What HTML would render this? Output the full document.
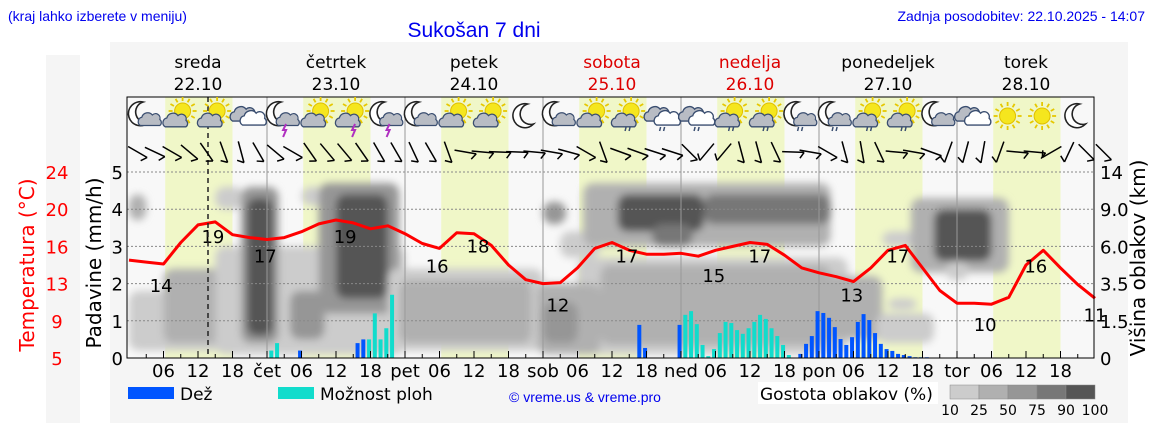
<!DOCTYPE html>
<html><head><meta charset="utf-8">
<style>
html,body{margin:0;padding:0;background:#fff;}
body{width:1152px;height:443px;overflow:hidden;font-family:"Liberation Sans",sans-serif;}
svg text{font-family:"DejaVu Sans","Liberation Sans",sans-serif;}
</style></head>
<body>
<svg id="chart" width="1152" height="443" xmlns="http://www.w3.org/2000/svg">
<defs>
<filter id="blur" x="-20%" y="-20%" width="140%" height="140%"><feGaussianBlur stdDeviation="4"/></filter>
<clipPath id="plotclip"><rect x="127" y="172" width="967" height="186"/></clipPath>
</defs>
<rect x="46" y="55" width="34" height="368" fill="#f5f5f5"/>
<rect x="110" y="42" width="1018" height="381" fill="#f5f5f5"/>
<text x="8" y="21" font-size="14" fill="#0000ee" style="font-family:'Liberation Sans',sans-serif">(kraj lahko izberete v meniju)</text>
<text x="474" y="37" font-size="21" fill="#0000ee" text-anchor="middle" style="font-family:'Liberation Sans',sans-serif">Sukošan 7 dni</text>
<text x="1145" y="21" font-size="14" fill="#0000ee" text-anchor="end" style="font-family:'Liberation Sans',sans-serif">Zadnja posodobitev: 22.10.2025 - 14:07</text>
<g id="g"></g>
</svg>
<script>
// ---- data ----
const dayNames = ['sreda','četrtek','petek','sobota','nedelja','ponedeljek','torek'];
const dayDates = ['22.10','23.10','24.10','25.10','26.10','27.10','28.10'];
const dayWeekend = [false,false,false,true,true,false,false];
const dayAbbr = ['','čet','pet','sob','ned','pon','tor'];
const tempTickLabels = ['5','9','13','16','20','24'];
const precipTickLabels = ['0','1','2','3','4','5'];
const cloudTickLabels = ['0','1.5','3.5','6.0','9.0','14'];
// temperature every 3 hours from Wed 00:00
const temps = [15.0,14.8,14.6,16.8,18.6,18.9,17.6,17.3,17.1,17.3,17.9,18.7,19.1,18.8,18.2,18.5,17.7,16.7,16.2,17.8,17.7,16.5,14.5,13.0,12.6,12.7,14.2,16.2,16.8,16.0,15.6,15.6,15.7,15.4,16.0,16.4,16.8,16.6,15.5,14.2,13.7,13.3,12.8,14.2,16.0,16.5,14.2,11.9,10.6,10.6,10.5,11.2,14.5,16.0,14.2,12.5,11.1];
const tempLabelHours = [5.6,14.6,23.7,37.6,53.6,60.7,74.6,86.6,101.7,109.7,125.7,133.7,148.9,157.7,168];
const tempLabelValues = [14,19,17,19,16,18,12,17,15,17,13,17,10,16,11];
const rainHours = [29,39,40,88,89,95,116,117,118,119,120,121,122,123,124,125,126,127,128,129,130,131,132,133,134,135,136,137,138];
const rainValues = [0.2,0.4,0.5,0.89,0.27,0.89,0.11,0.38,0.59,1.26,1.21,1.08,0.83,0.51,0.35,0.56,0.97,1.18,1.02,0.67,0.38,0.24,0.19,0.11,0.08,0.05,0.02,0.02,0.02];
const showerHours = [24,25,41,42,43,44,45,96,97,98,99,100,101,102,103,104,105,106,107,108,109,110,111,112,113,114];
const showerValues = [0.2,0.4,0.5,1.2,0.5,0.8,1.7,1.16,1.26,0.91,0.35,0.05,0.24,0.67,0.97,0.94,0.75,0.65,0.8,0.97,1.16,1.05,0.8,0.59,0.35,0.08];
// cloud density cells: hourStart, hourEnd, low, high (precip-axis units), density class 1..5
const cloudStart = [0,0,6,15,17,15,30,19.5,20.5,33,36,28,45,47,72,75,78,71,82,72,79,85,100,91,117,120,130,131,132,136,140,142];
const cloudEnd   = [21,3,18,20,46,48,34,26,25,47,45,34,72,70,76,82,125,82,122,78,122,100,122,98,121,131,140,138,137,153,150,146];
const cloudLow   = [0.2,3.7,0.4,4.0,0.3,0.1,4.1,0.4,0.6,1.2,1.6,0.5,0.2,0.4,3.6,2.7,0.1,0.1,0.35,0.4,3.0,3.4,3.6,3.0,3.8,0.5,0.4,3.0,1.3,2.3,2.6,2.1];
const cloudHigh  = [1.8,4.4,2.4,4.6,2.7,3.0,4.6,4.6,4.3,4.7,4.4,1.8,2.4,2.1,4.2,3.4,2.7,2.0,2.5,1.5,4.7,4.4,4.4,3.6,4.4,2.2,1.2,3.4,1.6,4.3,4.0,2.6];
const cloudDens  = [1,2,2,1,2,1,1,3,5,3,5,3,1,2,3,1,1,2,2,3,2,5,4,4,4,2,1,1,1,2,5,1];
const iconTypes = ['mc','sc','sc','c','mcs','sc','scs','mcs','mc','sc','sc','m','mc','sc','scr','cr','cr','scr','scr','mcr','mcr','scr','scr','mc','c','s','s','m'];
// wind shaft orientation (deg from vertical, clockwise), every 3 h from 01:30
const windDirs = [-60,-65,-60,-50,-35,-20,-15,-30,-50,-60,-35,-40,-40,-35,-30,-30,-25,-30,-20,-80,-85,-88,-88,-85,-80,-75,-60,-20,-70,-70,-72,-72,-45,40,40,-15,-15,-25,-88,-80,-60,-15,-10,-25,-85,-80,-70,20,15,10,20,-85,-85,60,25,-45,-45];
const densColors = ['#ffffff','#cccccc','#b0b0b0','#969696','#777777','#555555'];

// ---- axes ----
const X0=129, PX_H=5.75, YB=358, PX_P=37.2;
const X = h => X0 + h*PX_H;
const Yp = p => YB - p*PX_P;
const Yt = t => YB - (t-5)*(186/19);
const NS='http://www.w3.org/2000/svg';
const g=document.getElementById('g');
function el(tag, attrs, parent){const e=document.createElementNS(NS,tag);for(const k in attrs)e.setAttribute(k,attrs[k]);(parent||g).appendChild(e);return e;}
function txt(s, attrs, parent){const e=el('text',attrs,parent);e.textContent=s;return e;}

const bg=el('rect',{x:127,y:97,width:967,height:261,fill:'#f8f8f8'});


for(let d=0;d<7;d++){
  const r=el('rect',{x:X(d*24+6.3),y:97,width:X(18)-X(6.3),height:261,fill:'#f0f7c8'});
  
  
}
const cg=el('g',{filter:'url(#blur)','clip-path':'url(#plotclip)'});


for(let i=0;i<cloudStart.length;i++){
  const r=el('rect',{x:X(cloudStart[i]),y:Yp(cloudHigh[i]),width:X(cloudEnd[i])-X(cloudStart[i]),height:Yp(cloudLow[i])-Yp(cloudHigh[i]),rx:10,fill:densColors[cloudDens[i]]},cg);
  
  
}
for(let p=1;p<=5;p++){
  const l=el('line',{x1:127,x2:1094,y1:Yp(p),y2:Yp(p),stroke:'#888','stroke-width':1,'stroke-dasharray':'2,2'});
  
  
}
for(let d=1;d<7;d++){
  const l=el('line',{x1:X(d*24),x2:X(d*24),y1:97,y2:358,stroke:'#999','stroke-width':1});
  
  
}
function bar(h,v,color,name){
  const r=el('rect',{x:X(h+0.75)-2,y:Yp(v),width:4,height:Yp(0)-Yp(v),fill:color});
  
  
}
rainHours.forEach((h,i)=>bar(h,rainValues[i],'#0055ff','rain-bar'));
showerHours.forEach((h,i)=>bar(h,showerValues[i],'#11dccc','shower-bar'));
let dpath='';
temps.forEach((t,i)=>{dpath+=(i?'L':'M')+X(i*3).toFixed(1)+','+Yt(t).toFixed(1);});
const tl=el('path',{d:dpath,fill:'none',stroke:'#ff0000','stroke-width':3,'stroke-linejoin':'round'});


tempLabelHours.forEach((h,i)=>{
  const t=txt(String(tempLabelValues[i]),{x:X(h),y:Yt(tempLabelValues[i])+22,'font-size':18,'text-anchor':'middle',fill:'#000'});
  
  
});
const nl=el('line',{x1:208,x2:208,y1:97,y2:358,stroke:'#222','stroke-width':1.5,'stroke-dasharray':'5,4'});


const fr=el('rect',{x:127,y:97,width:967,height:261,fill:'none',stroke:'#000','stroke-width':1});


for(let h=3;h<168;h+=3){
  const l=el('line',{x1:X(h),x2:X(h),y1:358,y2:h%6?354:351,stroke:'#000','stroke-width':1});
  
  
}
for(let d=0;d<7;d++){
  [0,6,12,18].forEach(hh=>{
    const s = hh===0 ? dayAbbr[d] : (hh<10?'0'+hh:String(hh));
    if(!s) return;
    const t=txt(s,{x:X(d*24+hh),y:377,'font-size':18,'text-anchor':'middle',fill:'#000'});
    
    
  });
  const n=txt(dayNames[d],{x:X(d*24+12),y:68,'font-size':17,'text-anchor':'middle',fill:dayWeekend[d]?'#dd0000':'#000'});
  
  
  const dt=txt(dayDates[d],{x:X(d*24+12),y:90,'font-size':17,'text-anchor':'middle',fill:dayWeekend[d]?'#dd0000':'#000'});
  
  
}
for(let i=0;i<6;i++){
  const y=Yp(i);
  const a=txt(precipTickLabels[i],{x:123,y:y+7,'font-size':18,'text-anchor':'end',fill:'#000'});
  
  
  const b=txt(tempTickLabels[i],{x:57,y:y+7,'font-size':18,'text-anchor':'middle',fill:'#ff0000'});
  
  
  const c=txt(cloudTickLabels[i],{x:1100,y:y+7,'font-size':18,'text-anchor':'start',fill:'#000'});
  
  
}
const ta=txt('Temperatura (°C)',{x:0,y:0,'font-size':20,'text-anchor':'middle',fill:'#ff0000',transform:'translate(34,265) rotate(-90)'});


const pa=txt('Padavine (mm/h)',{x:0,y:0,'font-size':20,'text-anchor':'middle',fill:'#000',transform:'translate(101,263) rotate(-90)'});


const ca=txt('Višina oblakov (km)',{x:0,y:0,'font-size':20,'text-anchor':'middle',fill:'#000',transform:'translate(1145,258) rotate(-90)'});



function cloud(x,y,fill,s,par){
  const c=el('g',{transform:`translate(${x},${y}) scale(${s})`},par);
  el('path',{d:'M-13,6 a6,6 0 0 1 2,-11 a8,8 0 0 1 14,-3 a6,6 0 0 1 10,6 a5,5 0 0 1 0,8 z',fill:fill,stroke:'#3a4e70','stroke-width':1.6},c);
}
function sun(x,y,par){
  const s=el('g',{transform:`translate(${x},${y})`},par);
  for(let a=0;a<360;a+=30){const r=a*Math.PI/180;el('line',{x1:Math.cos(r)*10,y1:Math.sin(r)*10,x2:Math.cos(r)*14,y2:Math.sin(r)*14,stroke:'#e6c800','stroke-width':1.8},s);}
  el('circle',{cx:0,cy:0,r:8,fill:'#f5e61e',stroke:'#e0c000','stroke-width':1},s);
}
function moon(x,y,par){
  el('path',{d:`M${x+3},${y-12} a12,12 0 1 0 6,20 a10,10 0 0 1 -6,-20 z`,fill:'#fff',stroke:'#222','stroke-width':1.6},par);
}
iconTypes.forEach((t,i)=>{
  const cx=X(i*6+2.8), cy=116;
  const ig=el('g',{});
  
  
  if(t==='s'){sun(cx,cy,ig);return;}
  if(t==='m'){moon(cx,cy,ig);return;}
  if(t[0]==='m'){moon(cx-5,cy-2,ig);cloud(cx+5,cy+5,'#b8bcc4',0.75,ig);}
  else if(t[0]==='s'){sun(cx+3,cy-5,ig);cloud(cx-4,cy+6,'#b8bcc4',0.8,ig);}
  else {cloud(cx-5,cy,'#b8bcc4',0.85,ig);cloud(cx+5,cy+4,'#ffffff',0.85,ig);}
  if(t.endsWith('s')&&t.length===3){el('path',{d:`M${cx+3},${cy+8} l-3,6 h3 l-3,7`,fill:'none',stroke:'#b030c0','stroke-width':2},ig);}
  if(t.endsWith('r')){el('path',{d:`M${cx-2},${cy+11} l-1,4 M${cx+2},${cy+11} l-1,4`,stroke:'#3a4e70','stroke-width':1.5},ig);}
});
windDirs.forEach((a,i)=>{
  const cx=X(i*3+1.5), cy=152;
  const wg=el('g',{transform:`translate(${cx},${cy}) rotate(${a})`});
  
  
  el('line',{x1:0,y1:-11,x2:0,y2:11,stroke:'#000','stroke-width':1.5},wg);
  el('line',{x1:0,y1:11,x2:-6,y2:7,stroke:'#000','stroke-width':1.5},wg);
});
const lg=el('g',{});


el('rect',{x:128,y:387,width:46,height:12,fill:'#0055ff'},lg);
txt('Dež',{x:180,y:400,'font-size':17,fill:'#000'},lg);
el('rect',{x:278,y:387,width:36,height:12,fill:'#11dccc'},lg);
txt('Možnost ploh',{x:320,y:400,'font-size':17,fill:'#000'},lg);
const cp=txt('© vreme.us & vreme.pro',{x:585,y:402,'font-size':14,'text-anchor':'middle',fill:'#0000ee',style:"font-family:'Liberation Sans',sans-serif"},lg);


el('rect',{x:758,y:382,width:180,height:22,fill:'#fff'},lg);
txt('Gostota oblakov (%)',{x:760,y:400,'font-size':17,fill:'#000'},lg);
const legLabels=['10','25','50','75','90','100'];
for(let i=0;i<5;i++){el('rect',{x:950+i*29,y:385,width:29,height:14,fill:densColors[i+1],stroke:'#888','stroke-width':0.5},lg);}
legLabels.forEach((s,i)=>txt(s,{x:950+i*29,y:415,'font-size':14,'text-anchor':'middle',fill:'#000'},lg));
</script>
</body></html>
